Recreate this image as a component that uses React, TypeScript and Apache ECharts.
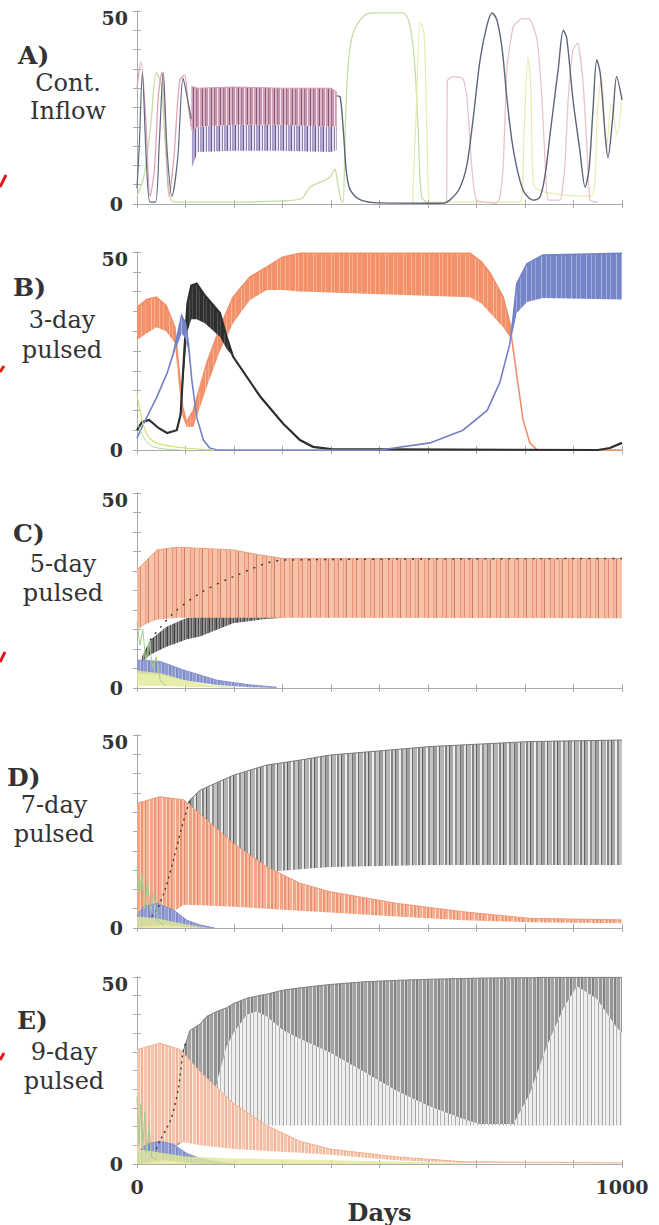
import { useEffect, useRef } from 'react';
import * as echarts from 'echarts';

// ---------------- data (day, value) ----------------
const xTickLabels = [0, 1000];
const yTickLabels = [0, 50];
const panelLetters = ['A)', 'B)', 'C)', 'D)', 'E)'];
const panelLine1 = ['Cont.', '3-day', '5-day', '7-day', '9-day'];
const panelLine2 = ['Inflow', 'pulsed', 'pulsed', 'pulsed', 'pulsed'];

// Panel A: continuous inflow
const aPink = [[0, 30], [8, 36.8], [18, 22], [27, 2], [36, 9], [44, 28], [51, 34], [58, 22], [66, 2], [76, 12], [88, 32], [98, 33.4], [106, 25], [112, 20]];
const aSlate1 = [[0, 4], [5, 16], [11, 34], [19, 12], [27, 0.5], [38, 0.5], [46, 16], [54, 34.2], [62, 14], [72, 2], [84, 12], [95, 32.6], [103, 28], [112, 22]];
const aGreen = [[0, 2], [14, 7], [28, 20], [40, 34], [50, 31], [60, 12], [70, 1], [85, 0.5], [200, 0.5], [300, 0.8], [340, 1.5], [357, 4.4], [384, 6], [398, 7], [408, 9], [414, 5], [421, 1], [425, 0.5], [429, 18], [435, 35.5], [445, 44], [466, 48.5], [487, 49.5], [548, 49.5], [563, 46], [573, 35.5], [580, 18.4], [587, 1.8], [600, 0.2]];
const aSlate2 = [[412, 28], [419, 27.7], [426, 18], [432, 8], [440, 3.6], [462, 1], [500, 0.3], [630, 0.2], [645, 1], [665, 4], [680, 10], [693, 22], [707, 37], [721, 46], [732, 49.5], [742, 47.7], [753, 40], [763, 27], [776, 14], [796, 3.6], [817, 1], [831, 1.8], [842, 8], [852, 18.4], [869, 35.5], [879, 45], [886, 43], [899, 27], [913, 14], [924, 4.4], [932, 9], [940, 24], [948, 37.3], [955, 34], [965, 18.4], [971, 12], [981, 22.5], [989, 33], [1000, 27]];
const aPale = [[625, 0], [638, 0.5], [640, 32], [650, 33], [672, 32.5], [680, 28], [690, 10], [700, 1], [740, 0.2], [748, 1.5], [755, 9.6], [763, 35.5], [776, 46], [794, 48], [811, 47.7], [825, 42.5], [835, 27], [842, 9.6], [848, 1], [872, 1], [882, 9.6], [889, 27], [899, 40], [909, 41.7], [920, 31], [928, 14], [934, 1], [950, 0.5]];
const aYellow = [[568, 0], [576, 25], [584, 47], [592, 44], [598, 18], [605, 0.5], [790, 0.5], [798, 18], [806, 38], [812, 30], [818, 5], [935, 2], [950, 25], [958, 33], [968, 14], [978, 26], [990, 18], [1000, 28]];
// [day, low, mid, high]
const aBand = [[112, 9, 19, 30.5], [125, 13.5, 20, 30], [200, 13.8, 20.5, 30.3], [300, 13.8, 20.5, 30], [400, 13.5, 20, 30], [412, 14, 20, 29]];

// Panel B: 3-day pulsed  [day, low, high]
const bOrange = [[0, 27.8, 36], [20, 29.5, 38], [40, 31, 38.6], [60, 30, 36.5], [78, 27, 31], [86, 17, 21], [94, 8.5, 11], [102, 5.8, 7], [116, 5.8, 10], [144, 16, 22], [171, 25, 31], [198, 32, 38.6], [233, 37.9, 43.7], [268, 40.4, 46.2], [300, 40.4, 48.7], [336, 40, 49.7], [687, 38.6, 49.7], [710, 37, 47.5], [728, 34.6, 44.7], [755, 31, 38.6], [769, 28.5, 32], [773, 27.8, 27.8], [784, 18, 18], [796, 7.6, 7.6], [810, 1.8, 1.8], [825, 0, 0], [1000, 0, 0]];
const bBlack = [[0, 5, 5], [10, 7, 7], [25, 7.6, 7.6], [45, 5.5, 5.5], [62, 4.3, 4.3], [82, 5, 5], [90, 9, 9], [97, 20, 24], [104, 30, 37], [112, 33, 41.5], [123, 33, 42], [140, 32, 39], [171, 28.6, 34.6], [185, 25.5, 28.5], [198, 23.6, 23.6], [254, 13.5, 13.5], [301, 6.7, 6.7], [336, 2.5, 2.5], [363, 0.8, 0.8], [400, 0.2, 0.2], [950, 0, 0], [975, 0.5, 0.5], [1000, 1.8, 1.8]];
const bBlue = [[0, 3, 3], [15, 7, 7], [41, 13.4, 13.4], [62, 19.4, 19.4], [75, 24, 24.5], [85, 27, 30], [92, 29.5, 34], [100, 28, 32], [106, 25, 27], [113, 17.7, 17.7], [123, 8.3, 8.3], [137, 2.5, 2.5], [150, 0.5, 0.5], [165, 0, 0], [501, 0, 0], [604, 1.8, 1.8], [672, 5, 5], [722, 10, 10], [748, 17, 17], [769, 27, 27], [775, 30, 33], [783, 34.6, 42], [804, 37.4, 47], [837, 38.4, 49.2], [1000, 38, 49.7]];
const bYellow = [[0, 14], [8, 9], [20, 4], [40, 1.8], [80, 0.8], [120, 0.3], [160, 0]];
const bGreen = [[0, 7], [15, 3], [30, 1], [60, 0.2], [90, 0]];

// Panel C: 5-day pulsed
const cOrange = [[0, 15, 30.3], [20, 16.5, 32.8], [41, 17.5, 35.4], [82, 18, 36.1], [198, 18, 35.4], [250, 18, 34.2], [301, 18, 33.2], [1000, 17.9, 33.2]];
const cBlack = [[10, 6.5, 8], [27, 8.5, 12.3], [61, 10.6, 15.7], [103, 12.5, 18], [130, 13.2, 18.2], [198, 16.6, 18.2], [260, 17.6, 18.2], [301, 18, 18.2]];
const cBlackTop = [[27, 12.3], [75, 19.2], [130, 24.3], [198, 28.5], [301, 32.8], [1000, 33.2]];
const cBlue = [[0, 3.8, 7.2], [48, 3.4, 6.8], [96, 2, 4.6], [165, 0.8, 2], [233, 0.2, 0.8], [288, 0, 0.2]];
const cYellow = [[0, 0.5, 4.5], [50, 0.5, 3.8], [100, 0.3, 2], [150, 0.2, 0.8], [200, 0, 0.3]];
const cGreen = [[0, 17], [6, 11], [12, 15], [18, 7], [25, 12], [32, 5], [40, 8], [48, 2], [60, 0.5]];

// Panel D: 7-day pulsed
const dGray = [[41, 3, 4.7], [75, 5, 17.6], [109, 8, 33.2], [130, 10, 35.7], [199, 13, 39.6], [267, 14.5, 42.2], [336, 15.2, 43.5], [398, 15.8, 44.8], [604, 16.3, 47], [810, 16.3, 48.3], [1000, 16.3, 48.7]];
const dOrange = [[0, 0, 32.3], [47, 0.5, 34], [60, 3, 33.8], [96, 6, 33.2], [144, 5.8, 28], [199, 5.5, 21.9], [267, 5, 15.9], [336, 4.5, 11.6], [398, 4, 9.4], [535, 3, 6.4], [673, 2, 4.2], [810, 1.5, 2.5], [1000, 1.2, 2.1]];
const dDots = [[30, 3], [41, 4.7], [58, 10], [75, 17.6], [92, 26], [109, 33.2]];
const dBlue = [[0, 0, 3], [13, 0.5, 5.5], [41, 1, 6.4], [75, 0.5, 4.7], [103, 0.2, 2], [130, 0, 0.8], [160, 0, 0]];
const dYellow = [[0, 0, 3], [40, 0, 2.5], [80, 0, 1.5], [120, 0, 0.5], [150, 0, 0]];
const dGreen = [[0, 16], [5, 8], [10, 14], [16, 5], [22, 12], [28, 4], [35, 9], [42, 2], [55, 0.5]];

// Panel E: 9-day pulsed  [day, low, mid, high]
const eGray = [[47, 3, 3, 6.1], [70, 4, 4, 12], [85, 5, 5, 20], [95, 6, 6, 30], [109, 7, 7, 35.7], [130, 8, 8, 37.4], [144, 9, 9, 39.5], [165, 9.5, 22, 40.8], [185, 10, 31.5, 41.8], [199, 10.3, 35, 42.9], [226, 10.3, 39.9, 44.3], [247, 10.3, 40.8, 44.9], [267, 10.3, 39.5, 45.4], [302, 10.3, 35.7, 46.5], [336, 10.3, 33.5, 47.1], [398, 10.3, 29.8, 48], [467, 10.3, 24.7, 48.7], [535, 10.3, 19.6, 49.1], [604, 10.3, 15.4, 49.4], [673, 10.3, 12, 49.6], [707, 10.3, 10.7, 49.7], [776, 10.3, 10.7, 49.8], [810, 10.3, 18.8, 49.8], [845, 10.3, 31.5, 49.9], [879, 10.3, 41.6, 49.9], [907, 10.3, 47.5, 49.9], [948, 10.3, 44.2, 49.9], [989, 10.3, 36.5, 49.9], [1000, 10.3, 35, 49.9]];
const eOrange = [[0, 0, 30.6], [47, 0.5, 32.3], [60, 3, 31.8], [89, 6, 30.6], [130, 5, 24.7], [199, 4, 16.2], [267, 3.5, 10.3], [336, 3, 6.1], [398, 2.5, 4], [535, 1, 1.9], [673, 0.3, 0.6], [1000, 0.2, 0.3]];
const eDots = [[40, 4], [47, 6.1], [70, 12], [85, 20], [95, 30], [100, 32.3]];
const eBlue = [[0, 0, 3], [20, 0.5, 5.3], [47, 1, 6.1], [75, 0.8, 5.3], [103, 0.3, 2.8], [130, 0, 1.5], [165, 0, 0.6], [200, 0, 0]];
const eYellow = [[0, 0, 4], [50, 0, 3], [100, 0, 2], [200, 0, 1.5], [400, 0, 1], [600, 0, 0.5], [700, 0, 0]];
const eGreen = [[0, 18], [4, 5], [8, 16], [12, 4], [16, 14], [20, 3], [25, 10], [30, 2], [40, 1]];

// ---------------- layout ----------------
const LEFT = 137;
const WIDTH = 485;
const PANEL_TOP = [11, 252, 493, 735, 977];
const PANEL_H = [193, 198, 195, 193, 197];
const LABEL_POS = [
  { lx: 18, ly: 55, cx: 68, y1: 83, y2: 111 },
  { lx: 13, ly: 287, cx: 62, y1: 320, y2: 350 },
  { lx: 13, ly: 533, cx: 63, y1: 564, y2: 593 },
  { lx: 7, ly: 777, cx: 54, y1: 805, y2: 834 },
  { lx: 17, ly: 1020, cx: 64, y1: 1052, y2: 1081 },
];
const FONT = "'DejaVu Serif', serif";
const AXIS_C = '#ababab';

type Seg = [string, number];
function stripes(segs: Seg[]) {
  const stops: { offset: number; color: string }[] = [];
  let pos = 0;
  let k = 0;
  while (pos < WIDTH) {
    const [c, w] = segs[k % segs.length];
    const end = Math.min(WIDTH, pos + w);
    stops.push({ offset: pos / WIDTH, color: c }, { offset: end / WIDTH, color: c });
    pos = end;
    k++;
  }
  return new echarts.graphic.LinearGradient(LEFT, 0, LEFT + WIDTH, 0, stops, true);
}

function bandS(g: number, rows: number[][], lo: number, hi: number, fill: any, edge?: string, edgeW = 1) {
  return {
    type: 'custom',
    xAxisIndex: g * 2,
    yAxisIndex: g * 2,
    silent: true,
    data: rows.map((r) => [r[0], r[lo], r[hi]]),
    encode: { x: 0, y: [1, 2] },
    renderItem: (params: any, api: any) => {
      if (params.dataIndex !== 0) return null;
      const top = rows.map((r) => api.coord([r[0], r[hi]]));
      const bot = rows.map((r) => api.coord([r[0], r[lo]]));
      const kids: any[] = [
        { type: 'polygon', shape: { points: top.concat(bot.slice().reverse()) }, style: { fill, stroke: null } },
      ];
      if (edge) kids.push({ type: 'polyline', shape: { points: top }, style: { stroke: edge, lineWidth: edgeW, fill: null } });
      return { type: 'group', children: kids };
    },
  };
}

function lineS(g: number, data: number[][], color: string, width = 1.2, extra: any = {}) {
  return {
    type: 'line',
    xAxisIndex: g * 2,
    yAxisIndex: g * 2,
    data,
    symbol: 'none',
    showSymbol: false,
    smooth: 0.3,
    silent: true,
    lineStyle: { color, width },
    itemStyle: { color },
    ...extra,
  };
}

function buildOption() {
  const grids = PANEL_TOP.map((t, i) => ({ left: LEFT, top: t, width: WIDTH, height: PANEL_H[i], show: false }));
  const xAxis: any[] = [];
  const yAxis: any[] = [];
  PANEL_TOP.forEach((_, i) => {
    const last = i === PANEL_TOP.length - 1;
    const common = {
      gridIndex: i,
      type: 'value',
      min: 0,
      max: 1000,
      interval: 100,
      splitLine: { show: false },
      axisLine: { show: true, lineStyle: { color: AXIS_C, width: 1 } },
      axisTick: { show: true, inside: true, length: 4, lineStyle: { color: AXIS_C } },
    };
    xAxis.push({
      ...common,
      position: 'bottom',
      name: last ? 'Days' : '',
      nameLocation: 'middle',
      nameGap: 36,
      nameTextStyle: { fontFamily: FONT, fontWeight: 'bold', fontSize: 24, color: '#333' },
      axisLabel: {
        show: last,
        margin: 13,
        fontFamily: FONT,
        fontWeight: 'bold',
        fontSize: 19,
        color: '#333',
        formatter: (v: number) => (xTickLabels.includes(v) ? String(v) : ''),
      },
    });
    xAxis.push({ ...common, position: 'top', axisLabel: { show: false } });
    const ycommon = {
      gridIndex: i,
      type: 'value',
      min: 0,
      max: 50,
      interval: 5,
      splitLine: { show: false },
      axisLine: { show: true, lineStyle: { color: AXIS_C, width: 1 } },
      axisTick: { show: true, inside: true, length: 4, lineStyle: { color: AXIS_C } },
    };
    const rs = { fontFamily: FONT, fontWeight: 'bold', fontSize: 19, color: '#333' };
    yAxis.push({
      ...ycommon,
      position: 'left',
      axisLabel: {
        show: true,
        margin: 9,
        ...rs,
        formatter: (v: number) =>
          v === yTickLabels[1] ? `{t|${v}}` : v === yTickLabels[0] ? `{b|${v}}` : '',
        rich: { t: { ...rs, padding: [14, 0, 0, 0] }, b: { ...rs, padding: [0, 5, 0, 0] } },
      },
    });
    yAxis.push({ ...ycommon, position: 'right', axisLabel: { show: false } });
  });

  // fills
  const fOrangeB = stripes([['#f2916a', 4], ['#f6b291', 1], ['#f2916a', 3], ['#f5a985', 1], ['#f2916a', 5], ['#f7bb9d', 1], ['#f2916a', 2], ['#f5ad8b', 1]]);
  const fBlueB = stripes([['#7684c8', 4], ['#a3addc', 1], ['#7684c8', 3], ['#9aa5d8', 1], ['#7684c8', 5], ['#adb5e0', 1]]);
  const fBlackB = stripes([['#2e2e2e', 3], ['#555555', 1], ['#333333', 2], ['#4a4a4a', 1]]);
  const fOrangeC = stripes([['#f5b89c', 3], ['#e38c6f', 1], ['#f6c2a8', 4], ['#ec9f82', 1], ['#f5b89c', 2], ['#c97c66', 1], ['#f6c2a8', 5], ['#e8977a', 1]]);
  const fBlackC = stripes([['#707070', 2], ['#404040', 1], ['#8e8e8e', 2], ['#505050', 1], ['#a0a0a0', 1]]);
  const fBlue = stripes([['#8f9ad0', 3], ['#b7bee3', 1], ['#7f8bc8', 2], ['#a6aedb', 1]]);
  const fYellow = 'rgba(228,232,150,0.8)';
  const fGrayD = stripes([['#9e9e9e', 3], ['#e6e6e6', 2], ['#6a6a6a', 1], ['#b4b4b4', 4], ['#f2f2f2', 1], ['#828282', 2], ['#d2d2d2', 2], ['#5e5e5e', 1], ['#a8a8a8', 3], ['#efefef', 2], ['#8c8c8c', 2], ['#c4c4c4', 3], ['#747474', 1]]);
  const fOrangeD = stripes([['#f2a585', 3], ['#fad5c4', 1], ['#ee9473', 2], ['#f7c0a6', 2], ['#e98a6a', 1], ['#f4b094', 3], ['#fde3d6', 1]]);
  const fGrayEDark = stripes([['#959595', 3], ['#d4d4d4', 1], ['#838383', 2], ['#bdbdbd', 1], ['#a2a2a2', 3], ['#e2e2e2', 1]]);
  const fGrayELight = stripes([['#ececec', 3], ['#a4a4a4', 1], ['#f6f6f6', 2], ['#b8b8b8', 1], ['#efefef', 3], ['#acacac', 1]]);
  const fOrangeE = stripes([['#f5c4ad', 3], ['#fbe3d6', 1], ['#f2b396', 2], ['#fde9df', 1]]);
  const fBandAHi = stripes([['#d3a0b3', 2], ['#7e5b7e', 1], ['#e0b5c3', 2], ['#9a6f92', 1], ['#c993a8', 2], ['#f2e4ea', 1]]);
  const fBandALo = stripes([['#b3a8d0', 2], ['#6d5c8a', 1], ['#e4e0ef', 2], ['#8b7cae', 1], ['#f5f3f9', 1], ['#a79bc6', 1]]);

  const series: any[] = [
    // A
    lineS(0, aGreen, '#c6dda2', 1.3),
    lineS(0, aYellow, '#ebeab0', 1.2),
    lineS(0, aPale, '#e6c4ca', 1.3, { smooth: 0.15 }),
    lineS(0, aPink, '#e0a3b5', 1.3),
    lineS(0, aSlate1, '#5e6a80', 1.2),
    bandS(0, aBand, 1, 2, fBandALo),
    bandS(0, aBand, 2, 3, fBandAHi, '#d99aae', 1),
    lineS(0, aSlate2, '#5b6478', 1.4),
    // B
    bandS(1, bOrange, 1, 2, fOrangeB, '#f0906a', 1.6),
    bandS(1, bBlack, 1, 2, fBlackB, '#2e2e2e', 2.2),
    bandS(1, bBlue, 1, 2, fBlueB, '#7282c6', 1.6),
    lineS(1, bYellow, '#d9df78', 1.2),
    lineS(1, bGreen, '#a8d890', 1),
    // C
    bandS(2, cBlack, 1, 2, fBlackC),
    bandS(2, cOrange, 1, 2, fOrangeC, '#ef9f80', 1),
    lineS(2, cBlackTop, '#3a3a3a', 1.4, { lineStyle: { color: '#3a3a3a', width: 1.4, type: [2, 6] } }),
    bandS(2, cBlue, 1, 2, fBlue, '#8792cc', 1),
    bandS(2, cYellow, 1, 2, fYellow),
    lineS(2, cGreen, '#9fcf8a', 1, { smooth: false }),
    // D
    bandS(3, dGray, 1, 2, fGrayD, '#7a7a7a', 1),
    bandS(3, dOrange, 1, 2, fOrangeD, '#f09878', 1),
    lineS(3, dDots, '#3a3a3a', 1.4, { lineStyle: { color: '#3a3a3a', width: 1.4, type: [2, 4] } }),
    bandS(3, dBlue, 1, 2, fBlue, '#8792cc', 1),
    bandS(3, dYellow, 1, 2, fYellow),
    lineS(3, dGreen, '#9fcf8a', 1, { smooth: false }),
    // E
    bandS(4, eGray, 1, 2, fGrayELight),
    bandS(4, eGray, 2, 3, fGrayEDark, '#808080', 1),
    bandS(4, eOrange, 1, 2, fOrangeE, '#f3b090', 1),
    lineS(4, eDots, '#3a3a3a', 1.4, { lineStyle: { color: '#3a3a3a', width: 1.4, type: [2, 4] } }),
    bandS(4, eBlue, 1, 2, fBlue, '#8792cc', 1),
    bandS(4, eYellow, 1, 2, fYellow),
    lineS(4, eGreen, '#9fcf8a', 1, { smooth: false }),
  ];

  const graphic: any[] = [];
  LABEL_POS.forEach((p, i) => {
    graphic.push({
      type: 'text', x: p.lx, y: p.ly, silent: true,
      style: { text: panelLetters[i], font: `bold 25px ${FONT}`, fill: '#333', textAlign: 'left', textVerticalAlign: 'middle' },
    });
    graphic.push({
      type: 'text', x: p.cx, y: p.y1, silent: true,
      style: { text: panelLine1[i], font: `24px ${FONT}`, fill: '#333', textAlign: 'center', textVerticalAlign: 'middle' },
    });
    graphic.push({
      type: 'text', x: p.cx, y: p.y2, silent: true,
      style: { text: panelLine2[i], font: `24px ${FONT}`, fill: '#333', textAlign: 'center', textVerticalAlign: 'middle' },
    });
  });
  // small red marks on the left edge
  const redMarks = [[[0, 187], [6, 175]], [[0, 372], [4, 366]], [[0, 662], [5, 652]], [[0, 1060], [4, 1053]]];
  redMarks.forEach((pts) =>
    graphic.push({ type: 'polyline', silent: true, shape: { points: pts }, style: { stroke: '#e3161c', lineWidth: 3, fill: null } })
  );

  return {
    animation: false,
    backgroundColor: '#ffffff',
    grid: grids,
    xAxis,
    yAxis,
    series,
    graphic,
  };
}

export default function App() {
  const ref = useRef<HTMLDivElement>(null);
  useEffect(() => {
    const chart = echarts.init(ref.current as HTMLDivElement, null, { renderer: 'svg' });
    chart.setOption(buildOption() as any);
    return () => chart.dispose();
  }, []);
  return (
    <div
      ref={ref}
      style={{ position: 'absolute', left: 0, top: 0, width: 659, height: 1225, background: '#fff' }}
    />
  );
}
